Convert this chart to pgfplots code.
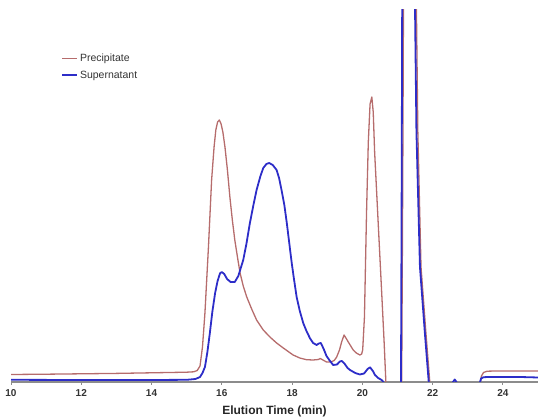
\documentclass[border=0pt]{standalone}
\usepackage{pgfplots}
\pgfplotsset{compat=1.18}
\usepackage{fontspec}
\setmainfont{Liberation Sans}
\definecolor{precol}{RGB}{182,108,108}
\definecolor{supcol}{RGB}{45,45,200}
\definecolor{axgray}{RGB}{140,140,140}
\begin{document}
\begin{tikzpicture}
\path[use as bounding box] (0,0) rectangle (538pt,420pt);
\begin{axis}[
  at={(11pt,38pt)}, anchor=south west,
  scale only axis, width=527pt, height=372pt,
  xmin=10, xmax=25, ymin=0, ymax=372,
  axis x line=bottom, axis y line=none,
  x axis line style={-, draw=axgray, line width=1.2pt},
  xtick={10,12,...,24}, ytick=\empty,
  tick align=outside, major tick length=3pt,
  x tick style={draw=axgray, line width=0.8pt},
  /pgf/number format/assume math mode=true,
  xticklabel style={font=\fontsize{10}{12}\selectfont\bfseries, text=black!80, yshift=-1pt},
  xlabel={Elution Time (min)},
  xlabel style={font=\fontsize{12}{14}\selectfont\bfseries, text=black!85, yshift=-2pt},
  legend style={draw=none, fill=none, at={(0.093,0.89)}, anchor=north west,
    font=\fontsize{10.5}{12}\selectfont, text=black!80, row sep=3.5pt, inner sep=1pt},
  legend cell align=left,
  legend image code/.code={\draw[#1] (0pt,0pt) -- (15pt,0pt);},
  line join=round,
]
\addplot[precol, line width=1.3pt] coordinates {
(10,7.5) (11,7.8) (12,8.2) (13,8.6) (14,9.2) (15,9.8) (15.2,10.2) (15.3,11.5) (15.38,16) (15.45,35) (15.52,69) (15.62,135) (15.71,202) (15.78,235) (15.83,252) (15.88,260) (15.93,262) (15.98,258) (16.03,250) (16.09,235) (16.16,212) (16.23,185) (16.30,162) (16.37,142) (16.45,124) (16.52,109) (16.61,96) (16.71,85) (16.85,73) (16.99,62) (17.18,52) (17.37,45) (17.56,39) (17.75,34) (18.03,27) (18.22,24) (18.41,22.3) (18.6,22) (18.75,22.5) (18.8,23.5) (18.88,22) (18.98,20) (19.1,20) (19.2,21.5) (19.27,25) (19.35,32) (19.41,40) (19.48,47) (19.55,43) (19.6,40) (19.67,36) (19.74,32) (19.83,29) (19.93,27) (19.98,28) (20.01,32) (20.06,65) (20.12,170) (20.17,240) (20.22,278) (20.27,285) (20.31,270) (20.35,230) (20.45,160) (20.55,90) (20.62,40) (20.67,0) (20.7,-10) (21.08,-10) (21.12,0) (21.15,200) (21.18,450) (21.35,800) (21.51,450) (21.54,372) (21.58,250) (21.67,115) (21.81,49) (21.92,0) (21.95,-10) (23.3,-10) (23.36,0) (23.39,6) (23.45,9.5) (23.55,10.8) (23.8,11) (24.5,11) (25,11)
};
\addlegendentry{Precipitate}
\addplot[supcol, line width=1.8pt] coordinates {
(10,2.2) (12,2) (14,2) (15,2.2) (15.25,3) (15.38,5) (15.45,9) (15.52,15) (15.59,30) (15.66,49) (15.73,70) (15.81,89) (15.88,101) (15.95,108.7) (16.0,110) (16.07,108) (16.15,103) (16.25,100) (16.37,100) (16.47,106) (16.61,122) (16.7,138) (16.8,159) (16.9,177) (16.99,192) (17.1,206) (17.18,214) (17.27,218) (17.35,219) (17.45,217) (17.56,212) (17.63,204) (17.7,192) (17.78,177) (17.85,159) (17.92,139) (17.99,119) (18.05,104) (18.13,85) (18.22,71) (18.32,58.7) (18.41,51) (18.51,43.7) (18.6,39) (18.7,37) (18.76,38.5) (18.82,39) (18.9,33) (18.98,26) (19.08,21) (19.17,17) (19.28,17.5) (19.36,20.5) (19.42,21) (19.5,18) (19.58,14) (19.65,12) (19.8,9) (19.93,7.5) (20.05,8.5) (20.15,13) (20.22,14.7) (20.3,11) (20.36,7) (20.45,4) (20.55,2) (20.6,0) (20.63,-10) (21.08,-10) (21.10,0) (21.12,200) (21.14,450) (21.3,800) (21.47,450) (21.50,372) (21.54,250) (21.64,115) (21.78,49) (21.89,0) (21.92,-10) (22.55,-10) (22.58,0) (22.63,2.5) (22.68,0) (22.71,-10) (23.3,-10) (23.35,0) (23.38,3.5) (23.45,4.8) (23.6,5) (24.5,5) (25,4.5)
};
\addlegendentry{Supernatant}
\end{axis}
\end{tikzpicture}
\end{document}
